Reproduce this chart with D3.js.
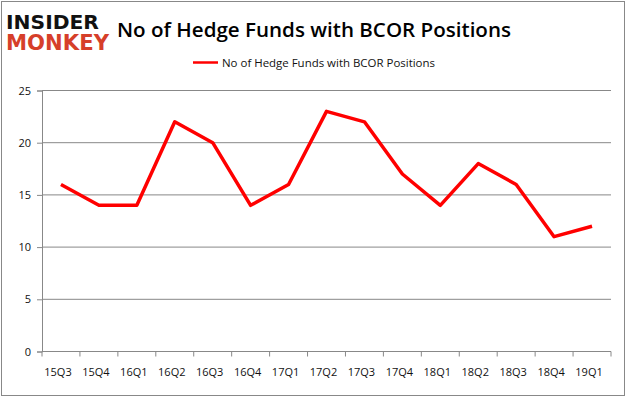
<!DOCTYPE html>
<html>
<head>
<meta charset="utf-8">
<script src="https://cdn.jsdelivr.net/npm/d3@7"></script>
<style>
  body { margin: 0; background: #fff; }
  svg { display: block; font-family: "Open Sans", "Liberation Sans", sans-serif; }
</style>
</head>
<body>
<div id="chart"></div>
<script>
const quarters = ["15Q3", "15Q4", "16Q1", "16Q2", "16Q3", "16Q4", "17Q1", "17Q2", "17Q3", "17Q4", "18Q1", "18Q2", "18Q3", "18Q4", "19Q1"];
const hedgeFunds = [16, 14, 14, 22, 20, 14, 16, 23, 22, 17, 14, 18, 16, 11, 12];
const yTicks = [0, 5, 10, 15, 20, 25];
const seriesName = "No of Hedge Funds with BCOR Positions";

const width = 626, height = 397;
const margin = { top: 90.5, right: 15, bottom: 45.5, left: 42 };
const innerWidth = width - margin.left - margin.right;
const innerHeight = height - margin.top - margin.bottom;

const svg = d3.select("#chart").append("svg")
  .attr("width", width)
  .attr("height", height);

// outer frame
svg.append("rect")
  .attr("x", 1.5).attr("y", 1.5)
  .attr("width", width - 3).attr("height", height - 3)
  .attr("fill", "none").attr("stroke", "#888").attr("stroke-width", 1);

// logo
svg.append("text")
  .attr("x", 6).attr("y", 29)
  .attr("font-family", "DejaVu Sans")
  .attr("font-weight", "bold")
  .attr("font-size", 20)
  .attr("textLength", 93)
  .attr("lengthAdjust", "spacingAndGlyphs")
  .attr("fill", "#111")
  .text("INSIDER");
svg.append("text")
  .attr("x", 6).attr("y", 50)
  .attr("font-family", "DejaVu Sans")
  .attr("font-weight", "bold")
  .attr("font-size", 21)
  .attr("textLength", 103)
  .attr("lengthAdjust", "spacingAndGlyphs")
  .attr("fill", "#d63f2a")
  .text("MONKEY");

// title
svg.append("text")
  .attr("x", 314).attr("y", 37)
  .attr("text-anchor", "middle")
  .attr("font-size", 20)
  .attr("font-weight", 600)
  .attr("textLength", 394)
  .attr("lengthAdjust", "spacingAndGlyphs")
  .attr("fill", "#000")
  .text(seriesName);

// legend
svg.append("line")
  .attr("x1", 193).attr("x2", 218)
  .attr("y1", 62.5).attr("y2", 62.5)
  .attr("stroke", "#ff0000").attr("stroke-width", 2.5);
svg.append("text")
  .attr("x", 222).attr("y", 66.5)
  .attr("font-size", 11)
  .attr("textLength", 213)
  .attr("lengthAdjust", "spacingAndGlyphs")
  .attr("fill", "#111")
  .text(seriesName);

const g = svg.append("g")
  .attr("transform", `translate(${margin.left},${margin.top})`);

const x = d3.scaleBand()
  .domain(quarters)
  .range([0, innerWidth]);

const y = d3.scaleLinear()
  .domain([0, 25])
  .range([innerHeight, 0]);

// gridlines
g.selectAll(".grid")
  .data(yTicks.filter(d => d > 0))
  .enter().append("line")
  .attr("class", "grid")
  .attr("x1", 0).attr("x2", innerWidth)
  .attr("y1", d => y(d)).attr("y2", d => y(d))
  .attr("stroke", "#888").attr("stroke-width", 1);

// y axis
const yAxis = g.append("g")
  .call(d3.axisLeft(y).tickValues(yTicks).tickSize(5).tickPadding(6));
yAxis.select(".domain").attr("stroke", "#888");
yAxis.selectAll(".tick line").attr("stroke", "#888");
yAxis.selectAll("text").attr("font-size", 11).attr("fill", "#111")
  .attr("font-family", "Open Sans, sans-serif");

// x axis with ticks between categories
const xAxis = g.append("g")
  .attr("transform", `translate(0,${innerHeight})`)
  .call(d3.axisBottom(x).tickSize(0).tickPadding(17));
xAxis.select(".domain").attr("stroke", "#888").attr("d", `M0,0H${innerWidth}`);
xAxis.selectAll("text").attr("font-size", 11).attr("fill", "#111")
  .attr("font-family", "Open Sans, sans-serif")
  .attr("dx", -3);
xAxis.selectAll(".sep")
  .data(d3.range(quarters.length + 1))
  .enter().append("line")
  .attr("class", "sep")
  .attr("x1", i => i * x.step()).attr("x2", i => i * x.step())
  .attr("y1", 0).attr("y2", 5)
  .attr("stroke", "#888");

// line
const line = d3.line()
  .x((d, i) => x(quarters[i]) + x.bandwidth() / 2)
  .y(d => y(d));

g.append("path")
  .datum(hedgeFunds)
  .attr("fill", "none")
  .attr("stroke", "#ff0000")
  .attr("stroke-width", 3.5)
  .attr("stroke-linejoin", "round")
  .attr("d", line);
</script>
</body>
</html>
